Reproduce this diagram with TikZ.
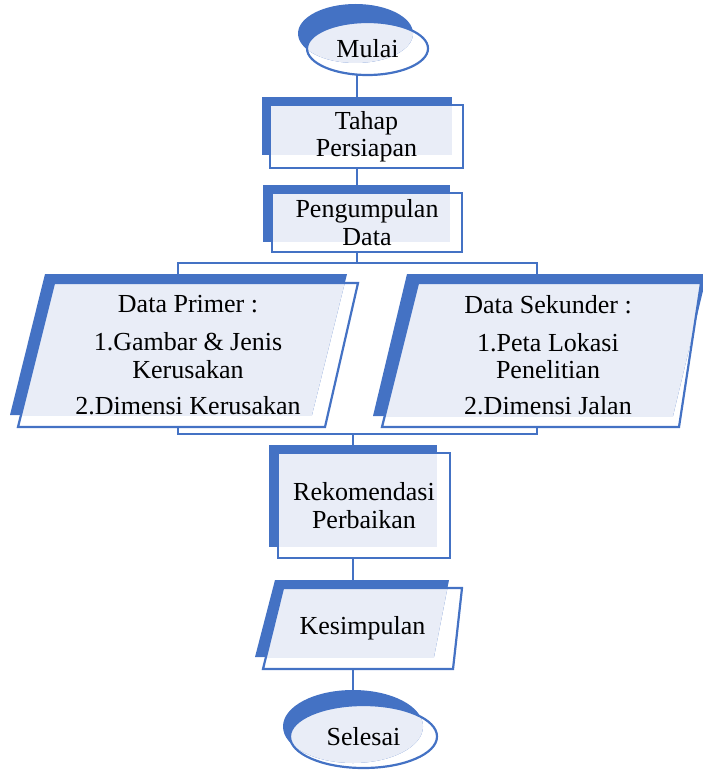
\documentclass[tikz,border=0pt]{standalone}
\usepackage{fontspec}
\setmainfont{Liberation Serif}
\usetikzlibrary{backgrounds, shapes.geometric}

\definecolor{shadeblue}{HTML}{4472C4}
\definecolor{boxfill}{HTML}{E9EDF7}

\begin{document}
\begin{tikzpicture}[
                x=1pt, y=-1pt,
                every node/.style={inner sep=0pt, outer sep=0pt, align=center, font=\fontsize{26}{27.5}\selectfont},
                box/.style={rectangle, draw=shadeblue, line width=2.2pt},
                oval/.style={ellipse, draw=shadeblue, line width=2.2pt},
                slantbox/.style={rectangle},
                outl/.style={draw=shadeblue, line width=2.2pt},
                conn/.style={draw=shadeblue, line width=2.2pt},
                shade/.style={fill=shadeblue},
                lite/.style={fill=boxfill}]
            \useasboundingbox (0,0) rectangle (702,770);

            % Bentuk
            \node[oval, minimum width=121pt, minimum height=53pt] (mulai) at (367.5,48.5) {Mulai};
            \node[box, minimum width=193pt, minimum height=63pt] (tahap) at (366.5,136.5) {Tahap\\Persiapan};
            \node[box, minimum width=190pt, minimum height=59pt] (kumpul) at (367,222.5) {Pengumpulan\\Data};
            \node[slantbox, minimum width=340pt, minimum height=144pt] (primer) at (188,355)
                {Data Primer :\\[10.5pt] 1.Gambar \& Jenis\\ Kerusakan\\[8.5pt] 2.Dimensi Kerusakan};
            \node[slantbox, minimum width=319pt, minimum height=144pt] (sekunder) at (548,355)
                {Data Sekunder :\\[10.5pt] 1.Peta Lokasi\\ Penelitian\\[8.5pt] 2.Dimensi Jalan};
            \node[box, minimum width=172pt, minimum height=105pt] (rekom) at (364,505.5) {Rekomendasi\\Perbaikan};
            \node[slantbox, minimum width=199pt, minimum height=81pt] (kesim) at (362.5,628.5) {Kesimpulan};
            \node[oval, minimum width=147pt, minimum height=63pt] (selesai) at (363.5,736.5) {Selesai};

            % Sisi jajargenjang
            \draw[outl] ([xshift=36]primer.north west) -- (primer.north east) -- ([xshift=-33]primer.south east) -- (primer.south west) -- cycle;
            \draw[outl] ([xshift=29.5]sekunder.north west) -- ([xshift=-6.5]sekunder.north east) -- ([xshift=-28.5]sekunder.south east) -- ([xshift=-6.5]sekunder.south west) -- cycle;
            \draw[outl] ([xshift=20]kesim.north west) -- (kesim.north east) -- ([xshift=-9]kesim.south east) -- (kesim.south west) -- cycle;

            \coordinate (fork) at (357,263);
            \coordinate (join) at (353,434);

            \begin{pgfonlayer}{background}
            % Garis penghubung
            \draw[conn] (mulai.south -| fork) -- (tahap.north -| fork);
            \draw[conn] (tahap.south -| fork) -- (kumpul.north -| fork);
            \draw[conn] (kumpul.south -| fork) -- (fork);
            \draw[conn] ([xshift=-10]primer.north) |- (fork) -| ([xshift=-11]sekunder.north);
            \draw[conn] ([xshift=-10]primer.south) |- (join) -| ([xshift=-11]sekunder.south);
            \draw[conn] (join) -- (rekom.north -| join);
            \draw[conn] (rekom.south -| join) -- (kesim.north -| join);
            \draw[conn] (kesim.south -| join) -- (selesai.north -| join);

            % Bayangan biru
            \fill[shade] ([shift={(-12,-15)}]mulai.center) ellipse [x radius=57.5pt, y radius=29.5pt];
            \fill[shade] ([shift={(-8,-8)}]tahap.north west) rectangle ([shift={(-11,-13)}]tahap.south east);
            \fill[shade] ([shift={(-9,-8)}]kumpul.north west) rectangle ([shift={(-12,-10)}]kumpul.south east);
            \fill[shade] ([shift={(27,-9)}]primer.north west) -- ([shift={(-11,-9)}]primer.north east)
                -- ([shift={(-46,-12)}]primer.south east) -- ([shift={(-8,-12)}]primer.south west) -- cycle;
            \fill[shade] ([shift={(18.5,-9)}]sekunder.north west) -- ([shift={(-0.5,-9)}]sekunder.north east)
                -- ([shift={(-34.5,-11)}]sekunder.south east) -- ([shift={(-15.5,-11)}]sekunder.south west) -- cycle;
            \fill[shade] ([shift={(-9,-8)}]rekom.north west) rectangle ([shift={(-13,-11)}]rekom.south east);
            \fill[shade] ([shift={(12,-8)}]kesim.north west) -- ([shift={(-13,-8)}]kesim.north east)
                -- ([shift={(-28,-12)}]kesim.south east) -- ([shift={(-8,-12)}]kesim.south west) -- cycle;
            \fill[shade] ([shift={(-10.5,-10)}]selesai.center) ellipse [x radius=70pt, y radius=36.5pt];

            % Isi terang
            \begin{scope}
                \clip (mulai.center) ellipse [x radius=60.5pt, y radius=26.5pt];
                \fill[lite] ([shift={(-12,-15)}]mulai.center) ellipse [x radius=57.5pt, y radius=29.5pt];
            \end{scope}
            \fill[lite] (tahap.north west) rectangle ([shift={(-11,-13)}]tahap.south east);
            \fill[lite] (kumpul.north west) rectangle ([shift={(-12,-10)}]kumpul.south east);
            \begin{scope}
                \clip ([xshift=36]primer.north west) -- (primer.north east) -- ([xshift=-33]primer.south east) -- (primer.south west) -- cycle;
                \fill[lite] ([shift={(27,-9)}]primer.north west) -- ([shift={(-11,-9)}]primer.north east)
                    -- ([shift={(-46,-12)}]primer.south east) -- ([shift={(-8,-12)}]primer.south west) -- cycle;
            \end{scope}
            \begin{scope}
                \clip ([xshift=29.5]sekunder.north west) -- ([xshift=-6.5]sekunder.north east) -- ([xshift=-28.5]sekunder.south east) -- ([xshift=-6.5]sekunder.south west) -- cycle;
                \fill[lite] ([shift={(18.5,-9)}]sekunder.north west) -- ([shift={(-0.5,-9)}]sekunder.north east)
                    -- ([shift={(-34.5,-11)}]sekunder.south east) -- ([shift={(-15.5,-11)}]sekunder.south west) -- cycle;
            \end{scope}
            \fill[lite] (rekom.north west) rectangle ([shift={(-13,-11)}]rekom.south east);
            \begin{scope}
                \clip ([xshift=20]kesim.north west) -- (kesim.north east) -- ([xshift=-9]kesim.south east) -- (kesim.south west) -- cycle;
                \fill[lite] ([shift={(12,-8)}]kesim.north west) -- ([shift={(-13,-8)}]kesim.north east)
                    -- ([shift={(-28,-12)}]kesim.south east) -- ([shift={(-8,-12)}]kesim.south west) -- cycle;
            \end{scope}
            \begin{scope}
                \clip (selesai.center) ellipse [x radius=73.5pt, y radius=31.5pt];
                \fill[lite] ([shift={(-10.5,-10)}]selesai.center) ellipse [x radius=70pt, y radius=36.5pt];
            \end{scope}
            \end{pgfonlayer}

        \end{tikzpicture}
\end{document}
